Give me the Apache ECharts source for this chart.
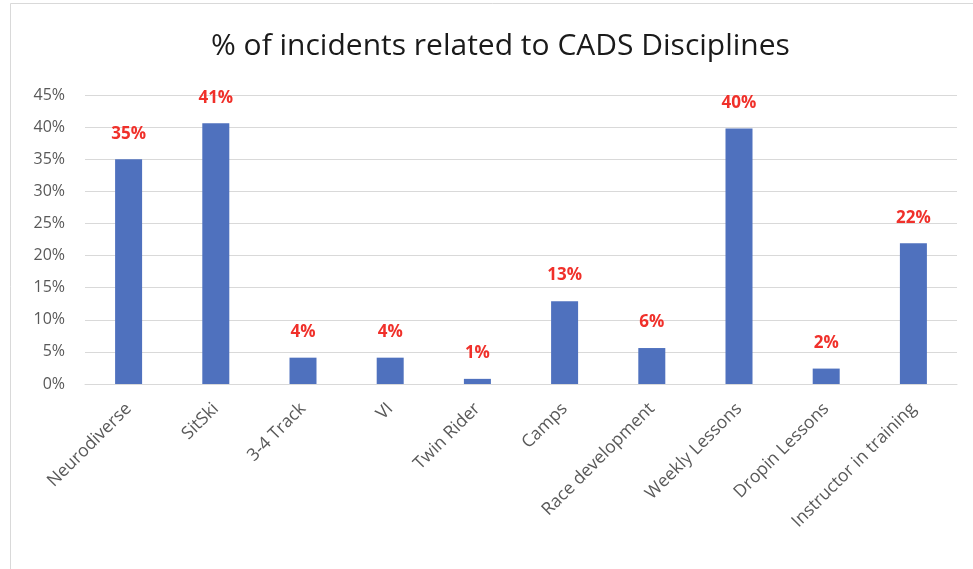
<!DOCTYPE html>
<html><head><meta charset="utf-8">
<script src="https://cdn.jsdelivr.net/npm/echarts@6/dist/echarts.min.js"></script>
<style>html,body{margin:0;padding:0;background:#fff}#c{width:973px;height:569px}</style>
</head><body><div id="c"></div>
<script>
const categories = ["Neurodiverse","SitSki","3-4 Track","VI","Twin Rider","Camps","Race development","Weekly Lessons","Dropin Lessons","Instructor in training"];
const values = [35.0, 40.6, 4.1, 4.1, 0.8, 12.9, 5.6, 39.8, 2.4, 21.9];
const titleText = "% of incidents related to CADS Disciplines";

const chart = echarts.init(document.getElementById('c'));
chart.setOption({
  animation: false,
  backgroundColor: '#fff',
  graphic: [{type:'rect', shape:{x:10.5,y:3.5,width:980,height:600}, style:{fill:'none', stroke:'#d9d9d9', lineWidth:1}, silent:true}],
  title: {text: titleText, left: 206, top: 26, textStyle:{fontFamily:'Open Sans', fontSize:30, fontWeight:'normal', color:'#1a1a1a'}},
  grid: {left: 85, right: 16, top: 95, bottom: 185},
  xAxis: {type:'category', data: categories,
    axisLine:{lineStyle:{color:'#d9d9d9'}}, axisTick:{show:false},
    axisLabel:{rotate:45, interval:0, color:'#595959', fontFamily:'Open Sans', fontSize:17.5, margin:22}},
  yAxis: {type:'value', min:0, max:45, interval:5,
    axisLabel:{formatter:'{value}%', color:'#595959', fontFamily:'Open Sans', fontSize:16, margin:20},
    splitLine:{lineStyle:{color:'#d9d9d9'}}, axisLine:{show:false}, axisTick:{show:false}},
  series: [{type:'bar', data: values, barWidth:27, itemStyle:{color:'#4f71be'},
    label:{show:true, position:'top', distance:17, color:'#f0302a', fontWeight:'bold', fontFamily:'Open Sans', fontSize:17,
      formatter: p => Math.round(p.value) + '%'}}]
});
</script></body></html>
